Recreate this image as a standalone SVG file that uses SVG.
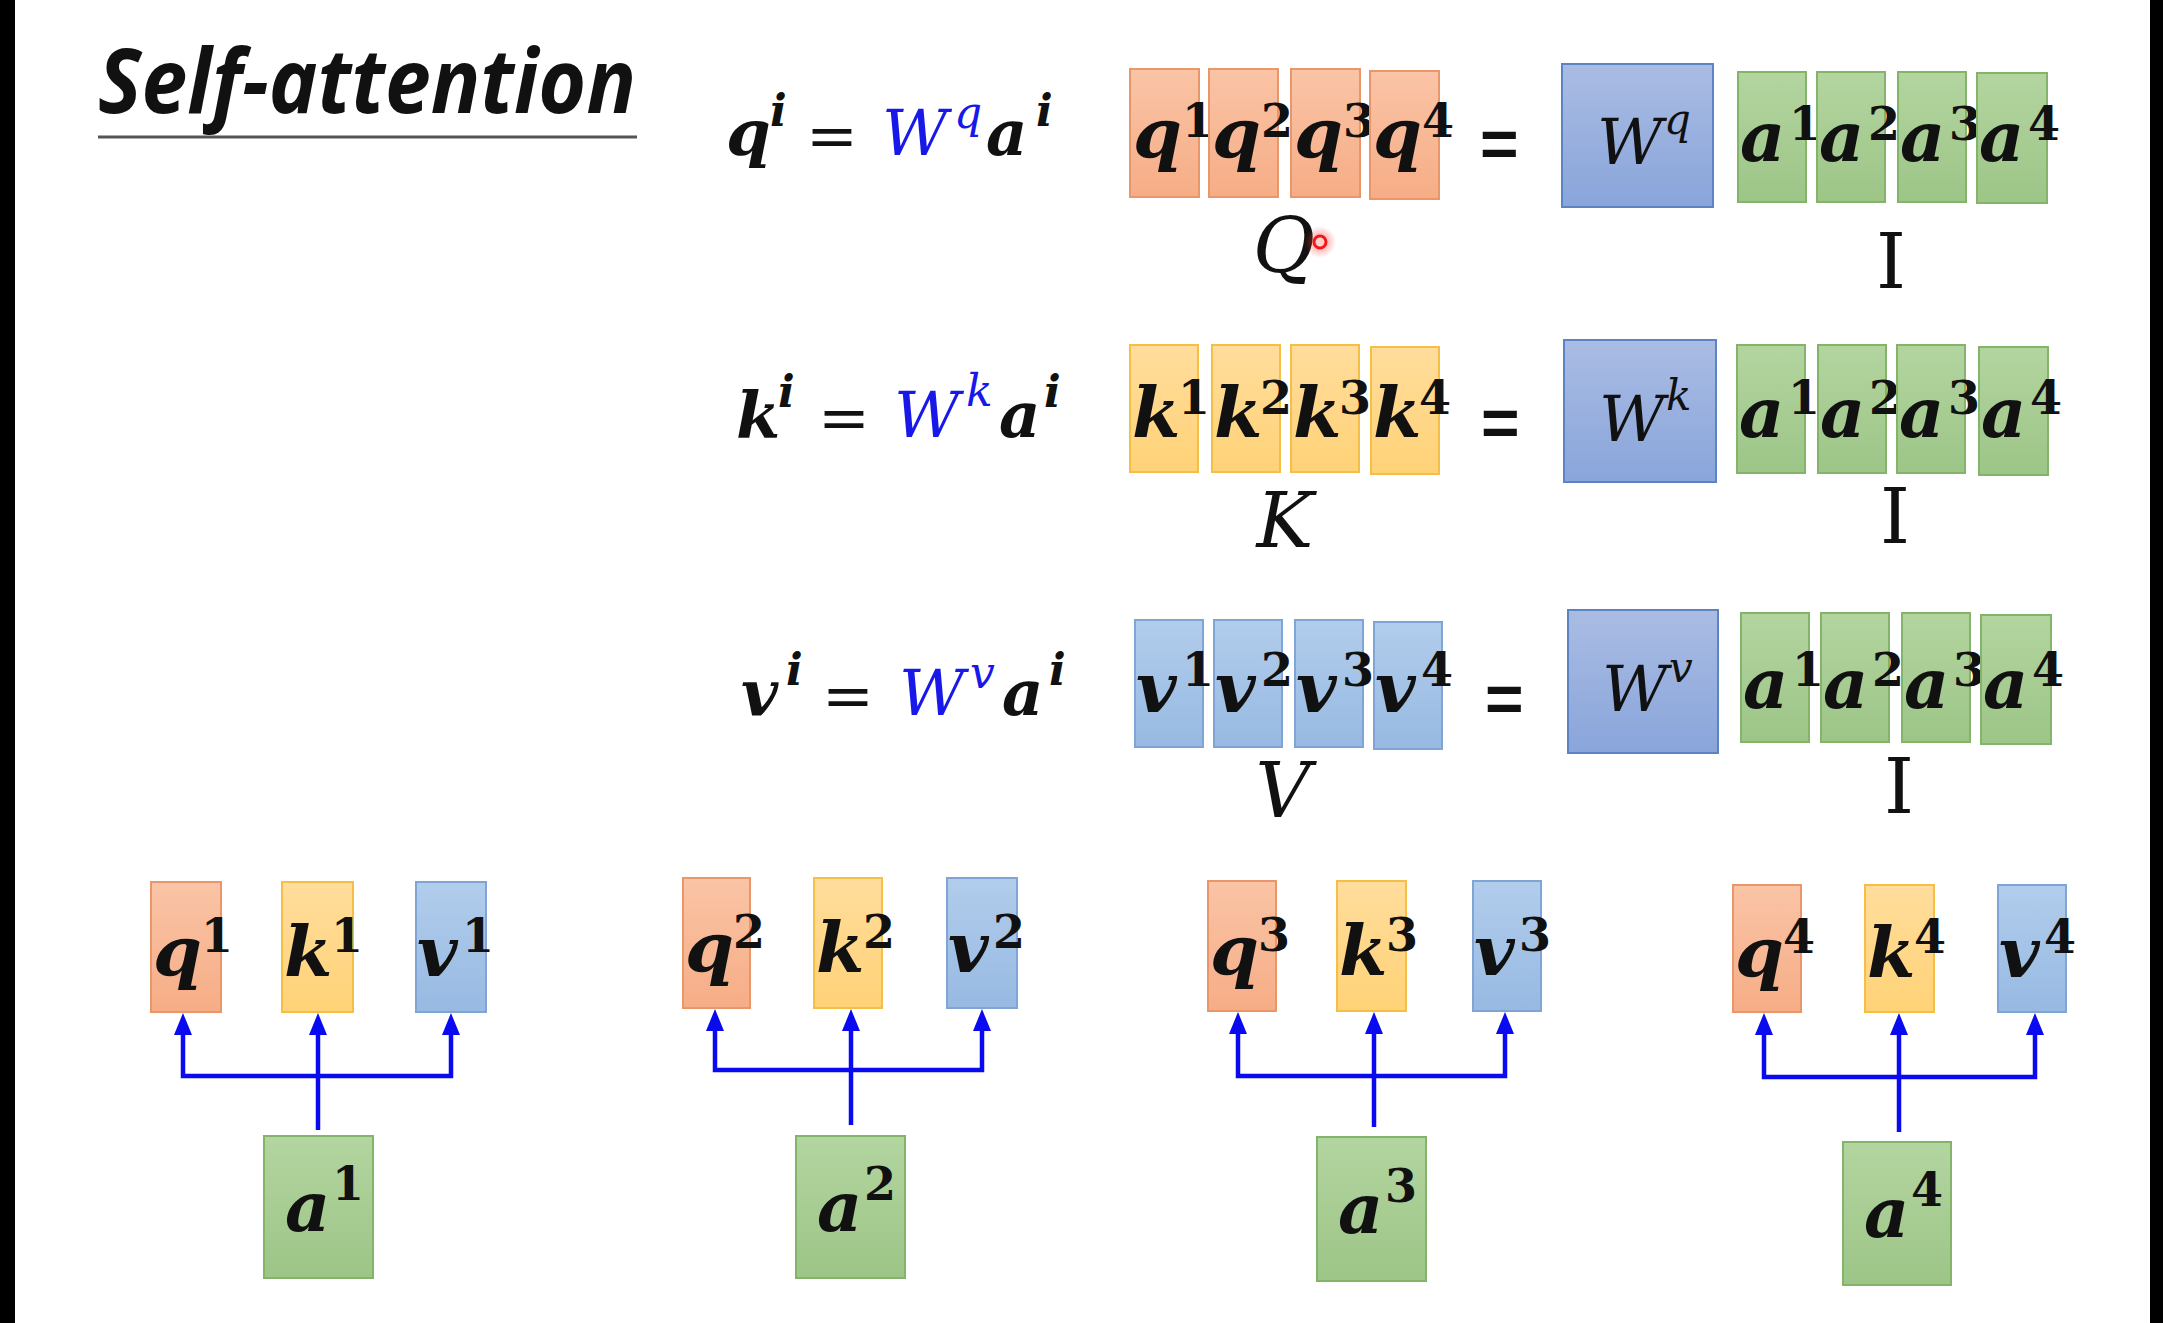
<svg xmlns="http://www.w3.org/2000/svg" width="2163" height="1323" viewBox="0 0 2163 1323">
<defs>
<linearGradient id="gO" x1="0" y1="0" x2="0" y2="1"><stop offset="0" stop-color="#FAC4A6"/><stop offset="1" stop-color="#F6AD86"/></linearGradient>
<linearGradient id="gY" x1="0" y1="0" x2="0" y2="1"><stop offset="0" stop-color="#FFDD9C"/><stop offset="1" stop-color="#FFD277"/></linearGradient>
<linearGradient id="gB" x1="0" y1="0" x2="0" y2="1"><stop offset="0" stop-color="#B2CDEC"/><stop offset="1" stop-color="#97B9E2"/></linearGradient>
<linearGradient id="gW" x1="0" y1="0" x2="0" y2="1"><stop offset="0" stop-color="#AABCE3"/><stop offset="1" stop-color="#89A5DB"/></linearGradient>
<linearGradient id="gG" x1="0" y1="0" x2="0" y2="1"><stop offset="0" stop-color="#B3D5A0"/><stop offset="1" stop-color="#9DC587"/></linearGradient>
<radialGradient id="glow"><stop offset="0" stop-color="#FF3030" stop-opacity="0.6"/><stop offset="1" stop-color="#FF3030" stop-opacity="0"/></radialGradient>
<marker id="ah" viewBox="0 0 22 18" refX="9" refY="9" markerWidth="22" markerHeight="18" markerUnits="userSpaceOnUse" orient="auto-start-reverse"><path d="M0,0 L22,9 L0,18 z" fill="#0A0AF0"/></marker>
</defs>
<style>
.o{fill:url(#gO);stroke:#E9966B;stroke-width:2}
.y{fill:url(#gY);stroke:#F5BE45;stroke-width:2}
.b{fill:url(#gB);stroke:#80A4D4;stroke-width:2}
.w{fill:url(#gW);stroke:#5C83C2;stroke-width:2}
.g{fill:url(#gG);stroke:#83B46A;stroke-width:2}
.m{font-family:"DejaVu Serif",serif;font-style:italic;font-weight:bold;font-size:70px;fill:#111}
.s{font-style:normal;font-size:46px}
.e{font-family:"DejaVu Serif",serif;font-style:italic;font-weight:bold;font-size:64px;fill:#111}
.es{font-size:44px}
.eq{font-weight:normal;font-style:normal;font-size:62px}
.bw{font-weight:normal;fill:#1818E8}
.bws{font-weight:normal;fill:#1818E8;font-size:44px}
.wt{font-family:"DejaVu Serif",serif;font-style:italic;font-size:64px;fill:#111}
.wts{font-size:42px}
.lb{font-family:"DejaVu Serif",serif;font-style:italic;font-size:76px;fill:#111;text-anchor:middle}
.li{font-family:"DejaVu Serif",serif;font-size:76px;fill:#111;text-anchor:middle}
.ge{font-family:"Liberation Sans",sans-serif;font-weight:bold;font-size:66px;fill:#111}
.c{stroke:#0A0AF0;stroke-width:4.5;fill:none}
</style>
<rect width="2163" height="1323" fill="#FFFFFF"/>
<rect x="0" y="0" width="15" height="1323" fill="#000"/>
<rect x="2150" y="0" width="13" height="1323" fill="#000"/>

<g id="title">
<text x="98" y="113" font-family="Open Sans, sans-serif" font-style="italic" font-weight="bold" font-size="90" textLength="538" lengthAdjust="spacingAndGlyphs" fill="#111">Self-attention</text>
<line x1="98" y1="137" x2="637" y2="137" stroke="#555" stroke-width="3"/>
</g>

<g id="eq-q">
<text class="e" x="726" y="155">q<tspan class="es" x="770" y="126">i</tspan><tspan class="eq" x="806" y="157">=</tspan><tspan class="bw" x="882" y="155">W</tspan><tspan class="bws" x="954" y="128">q</tspan><tspan x="986" y="155">a</tspan><tspan class="es" x="1036" y="126">i</tspan></text>
</g>
<g id="eq-k">
<text class="e" x="736" y="437">k<tspan class="es" x="778" y="407">i</tspan><tspan class="eq" x="818" y="439">=</tspan><tspan class="bw" x="894" y="437">W</tspan><tspan class="bws" x="966" y="406">k</tspan><tspan x="999" y="437">a</tspan><tspan class="es" x="1044" y="407">i</tspan></text>
</g>
<g id="eq-v">
<text class="e" x="741" y="715">v<tspan class="es" x="786" y="685">i</tspan><tspan class="eq" x="822" y="717">=</tspan><tspan class="bw" x="899" y="715">W</tspan><tspan class="bws" x="970" y="688">v</tspan><tspan x="1002" y="715">a</tspan><tspan class="es" x="1049" y="685">i</tspan></text>
</g>

<g id="Q">
<rect class="o" x="1130" y="69" width="69" height="128"/><text class="m" x="1133" y="158">q<tspan class="s" x="1182" y="137">1</tspan></text>
<rect class="o" x="1209" y="69" width="69" height="128"/><text class="m" x="1212" y="158">q<tspan class="s" x="1261" y="137">2</tspan></text>
<rect class="o" x="1291" y="69" width="69" height="128"/><text class="m" x="1294" y="158">q<tspan class="s" x="1343" y="137">3</tspan></text>
<rect class="o" x="1370" y="71" width="69" height="128"/><text class="m" x="1373" y="158">q<tspan class="s" x="1422" y="137">4</tspan></text>
<text class="lb" x="1284" y="272">Q</text>
</g>
<g id="cursor">
<circle cx="1320" cy="242" r="16" fill="url(#glow)"/>
<circle cx="1320" cy="242" r="6" fill="#FFD0D0" stroke="#F01818" stroke-width="3"/>
</g>
<text class="ge" x="1480" y="167">=</text>
<g id="Wq">
<rect class="w" x="1562" y="64" width="151" height="143"/>
<text class="wt" x="1597" y="164">W<tspan class="wts" x="1664" y="134">q</tspan></text>
</g>
<g id="Iq">
<rect class="g" x="1738" y="72" width="68" height="130"/><text class="m" x="1740" y="161">a<tspan class="s" x="1789" y="140">1</tspan></text>
<rect class="g" x="1817" y="72" width="68" height="130"/><text class="m" x="1819" y="161">a<tspan class="s" x="1868" y="140">2</tspan></text>
<rect class="g" x="1898" y="72" width="68" height="130"/><text class="m" x="1900" y="161">a<tspan class="s" x="1949" y="140">3</tspan></text>
<rect class="g" x="1977" y="73" width="70" height="130"/><text class="m" x="1979" y="161">a<tspan class="s" x="2028" y="140">4</tspan></text>
<text class="li" x="1891" y="288">I</text>
</g>

<g id="K">
<rect class="y" x="1130" y="345" width="68" height="127"/><text class="m" x="1132" y="437">k<tspan class="s" x="1178" y="414">1</tspan></text>
<rect class="y" x="1212" y="345" width="68" height="127"/><text class="m" x="1214" y="437">k<tspan class="s" x="1260" y="414">2</tspan></text>
<rect class="y" x="1291" y="345" width="68" height="127"/><text class="m" x="1293" y="437">k<tspan class="s" x="1339" y="414">3</tspan></text>
<rect class="y" x="1371" y="347" width="68" height="127"/><text class="m" x="1373" y="437">k<tspan class="s" x="1419" y="414">4</tspan></text>
<text class="lb" x="1285" y="547">K</text>
</g>
<text class="ge" x="1481" y="446">=</text>
<g id="Wk">
<rect class="w" x="1564" y="340" width="152" height="142"/>
<text class="wt" x="1599" y="441">W<tspan class="wts" x="1666" y="410">k</tspan></text>
</g>
<g id="Ik">
<rect class="g" x="1737" y="345" width="68" height="128"/><text class="m" x="1739" y="437">a<tspan class="s" x="1788" y="414">1</tspan></text>
<rect class="g" x="1818" y="345" width="68" height="128"/><text class="m" x="1820" y="437">a<tspan class="s" x="1869" y="414">2</tspan></text>
<rect class="g" x="1897" y="345" width="68" height="128"/><text class="m" x="1899" y="437">a<tspan class="s" x="1948" y="414">3</tspan></text>
<rect class="g" x="1979" y="347" width="69" height="128"/><text class="m" x="1981" y="437">a<tspan class="s" x="2030" y="414">4</tspan></text>
<text class="li" x="1895" y="543">I</text>
</g>

<g id="V">
<rect class="b" x="1135" y="620" width="68" height="127"/><text class="m" x="1136" y="712">v<tspan class="s" x="1182" y="686">1</tspan></text>
<rect class="b" x="1214" y="620" width="68" height="127"/><text class="m" x="1215" y="712">v<tspan class="s" x="1261" y="686">2</tspan></text>
<rect class="b" x="1295" y="620" width="68" height="127"/><text class="m" x="1296" y="712">v<tspan class="s" x="1342" y="686">3</tspan></text>
<rect class="b" x="1374" y="622" width="68" height="127"/><text class="m" x="1375" y="712">v<tspan class="s" x="1421" y="686">4</tspan></text>
<text class="lb" x="1283" y="817">V</text>
</g>
<text class="ge" x="1485" y="722">=</text>
<g id="Wv">
<rect class="w" x="1568" y="610" width="150" height="143"/>
<text class="wt" x="1602" y="711">W<tspan class="wts" x="1669" y="682">v</tspan></text>
</g>
<g id="Iv">
<rect class="g" x="1741" y="613" width="68" height="129"/><text class="m" x="1743" y="708">a<tspan class="s" x="1792" y="686">1</tspan></text>
<rect class="g" x="1821" y="613" width="68" height="129"/><text class="m" x="1823" y="708">a<tspan class="s" x="1872" y="686">2</tspan></text>
<rect class="g" x="1902" y="613" width="68" height="129"/><text class="m" x="1904" y="708">a<tspan class="s" x="1953" y="686">3</tspan></text>
<rect class="g" x="1981" y="615" width="70" height="129"/><text class="m" x="1983" y="708">a<tspan class="s" x="2032" y="686">4</tspan></text>
<text class="li" x="1899" y="813">I</text>
</g>

<g id="group1">
<rect class="o" x="151" y="882" width="70" height="130"/><text class="m" x="153" y="976">q<tspan class="s" x="201" y="952">1</tspan></text>
<rect class="y" x="282" y="882" width="71" height="130"/><text class="m" x="284" y="976">k<tspan class="s" x="331" y="952">1</tspan></text>
<rect class="b" x="416" y="882" width="70" height="130"/><text class="m" x="417" y="976">v<tspan class="s" x="462" y="952">1</tspan></text>
<rect class="g" x="264" y="1136" width="109" height="142"/><text class="m" x="285" y="1231">a<tspan class="s" x="332" y="1200">1</tspan></text>
</g>
<g id="group2">
<rect class="o" x="683" y="878" width="67" height="130"/><text class="m" x="685" y="972">q<tspan class="s" x="733" y="948">2</tspan></text>
<rect class="y" x="814" y="878" width="68" height="130"/><text class="m" x="816" y="972">k<tspan class="s" x="863" y="948">2</tspan></text>
<rect class="b" x="947" y="878" width="70" height="130"/><text class="m" x="948" y="972">v<tspan class="s" x="993" y="948">2</tspan></text>
<rect class="g" x="796" y="1136" width="109" height="142"/><text class="m" x="817" y="1231">a<tspan class="s" x="864" y="1200">2</tspan></text>
</g>
<g id="group3">
<rect class="o" x="1208" y="881" width="68" height="130"/><text class="m" x="1210" y="975">q<tspan class="s" x="1258" y="951">3</tspan></text>
<rect class="y" x="1337" y="881" width="69" height="130"/><text class="m" x="1339" y="975">k<tspan class="s" x="1386" y="951">3</tspan></text>
<rect class="b" x="1473" y="881" width="68" height="130"/><text class="m" x="1474" y="975">v<tspan class="s" x="1519" y="951">3</tspan></text>
<rect class="g" x="1317" y="1137" width="109" height="144"/><text class="m" x="1338" y="1233">a<tspan class="s" x="1385" y="1202">3</tspan></text>
</g>
<g id="group4">
<rect class="o" x="1733" y="885" width="68" height="127"/><text class="m" x="1735" y="977">q<tspan class="s" x="1783" y="953">4</tspan></text>
<rect class="y" x="1865" y="885" width="69" height="127"/><text class="m" x="1867" y="977">k<tspan class="s" x="1914" y="953">4</tspan></text>
<rect class="b" x="1998" y="885" width="68" height="127"/><text class="m" x="1999" y="977">v<tspan class="s" x="2044" y="953">4</tspan></text>
<rect class="g" x="1843" y="1142" width="108" height="143"/><text class="m" x="1864" y="1237">a<tspan class="s" x="1911" y="1206">4</tspan></text>
</g>

<g id="connectors">
<path class="c" d="M183,1026 V1076 H451 V1026" marker-start="url(#ah)" marker-end="url(#ah)"/>
<path class="c" d="M318,1130 V1026" marker-end="url(#ah)"/>
<path class="c" d="M715,1022 V1070 H982 V1022" marker-start="url(#ah)" marker-end="url(#ah)"/>
<path class="c" d="M851,1125 V1022" marker-end="url(#ah)"/>
<path class="c" d="M1238,1025 V1076 H1505 V1025" marker-start="url(#ah)" marker-end="url(#ah)"/>
<path class="c" d="M1374,1127 V1025" marker-end="url(#ah)"/>
<path class="c" d="M1764,1026 V1077 H2035 V1026" marker-start="url(#ah)" marker-end="url(#ah)"/>
<path class="c" d="M1899,1132 V1026" marker-end="url(#ah)"/>
</g>
</svg>
